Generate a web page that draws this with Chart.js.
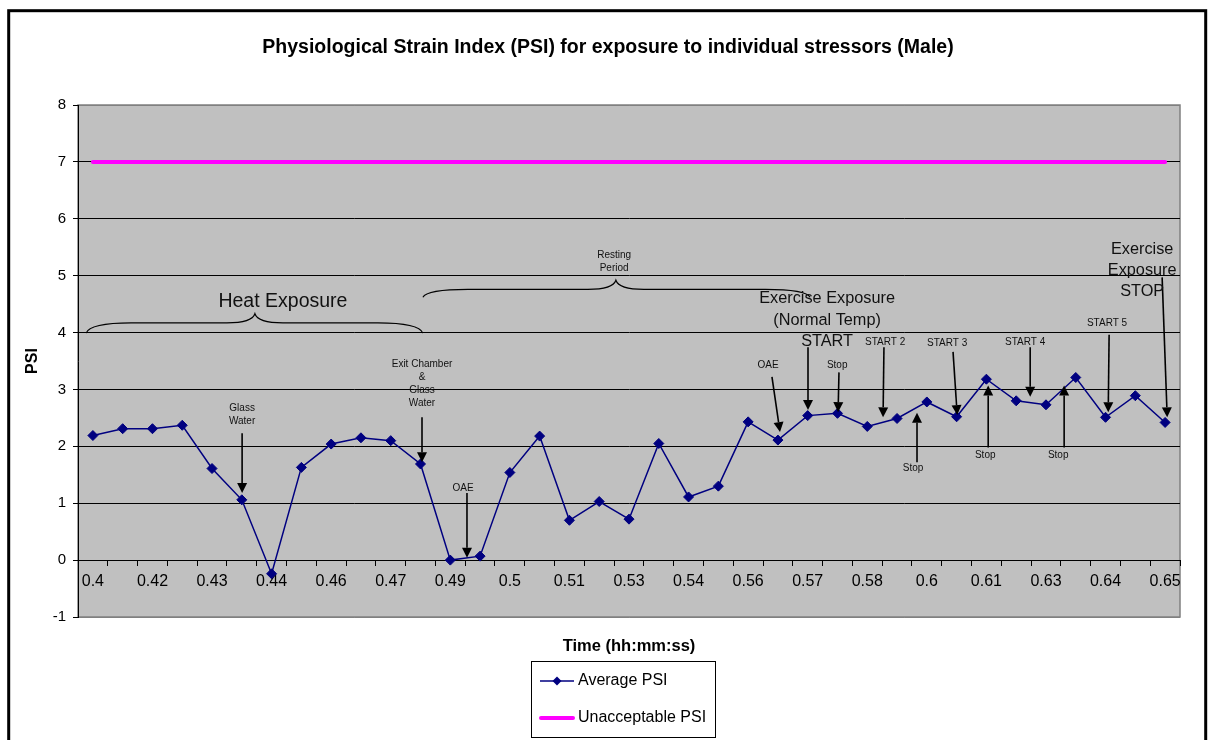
<!DOCTYPE html>
<html>
<head>
<meta charset="utf-8">
<title>PSI</title>
<script src="https://cdn.jsdelivr.net/npm/chart.js@4.4.1/dist/chart.umd.min.js"></script>
<style>
  html, body { margin: 0; padding: 0; background: #fff; }
  #wrap { width: 1209px; height: 740px; }
</style>
</head>
<body>
<div id="wrap"><canvas id="myChart" width="1209" height="740"></canvas></div>
<script>
const timeLabels = ['0.4','0.41','0.42','0.42','0.43','0.44','0.44','0.45','0.46','0.47','0.47','0.48','0.49',
  '0.49','0.5','0.51','0.51','0.52','0.53','0.53','0.54','0.55','0.56','0.56','0.57','0.58','0.58','0.59',
  '0.6','0.6','0.61','0.62','0.63','0.63','0.64','0.65','0.65'];

const averagePSI = [2.19, 2.31, 2.31, 2.37, 1.61, 1.06, -0.24, 1.63, 2.04, 2.15, 2.10, 1.69, 0.00,
  0.07, 1.54, 2.18, 0.70, 1.03, 0.72, 2.05, 1.11, 1.30, 2.43, 2.11, 2.54, 2.58, 2.35, 2.49,
  2.78, 2.52, 3.18, 2.80, 2.73, 3.21, 2.51, 2.89, 2.42];

const unacceptablePSI = [7, 7, 7, 7, 7, 7, 7, 7, 7, 7, 7, 7, 7, 7, 7, 7, 7, 7, 7,
  7, 7, 7, 7, 7, 7, 7, 7, 7, 7, 7, 7, 7, 7, 7, 7, 7, 7];

// annotation text: category index, psi value of first line
const notes = [
  { lines: ['Heat Exposure'], x: 6.38, y: 4.54, size: 19.5 },
  { lines: ['Resting', 'Period'], x: 17.5, y: 5.36, size: 10 },
  { lines: ['Glass', 'Water'], x: 5.01, y: 2.67, size: 10 },
  { lines: ['Exit Chamber', '&', 'Glass', 'Water'], x: 11.05, y: 3.45, size: 10 },
  { lines: ['OAE'], x: 12.43, y: 1.27, size: 10 },
  { lines: ['OAE'], x: 22.67, y: 3.42, size: 10 },
  { lines: ['Exercise Exposure', '(Normal Temp)', 'START'], x: 24.65, y: 4.59, size: 16.3 },
  { lines: ['Stop'], x: 24.99, y: 3.42, size: 10 },
  { lines: ['START 2'], x: 26.6, y: 3.83, size: 10 },
  { lines: ['Stop'], x: 27.54, y: 1.62, size: 10 },
  { lines: ['START 3'], x: 28.68, y: 3.81, size: 10 },
  { lines: ['Stop'], x: 29.96, y: 1.84, size: 10 },
  { lines: ['START 4'], x: 31.3, y: 3.83, size: 10 },
  { lines: ['Stop'], x: 32.41, y: 1.84, size: 10 },
  { lines: ['START 5'], x: 34.05, y: 4.17, size: 10 },
  { lines: ['Exercise', 'Exposure', 'STOP'], x: 35.23, y: 5.46, size: 16.3 }
];

// arrows: [x from, y from, x tip, y tip]
const arrows = [
  [5.01, 2.23, 5.01, 1.18],
  [11.05, 2.51, 11.05, 1.72],
  [12.56, 1.18, 12.56, 0.04],
  [22.8, 3.22, 23.07, 2.25],
  [24.01, 3.74, 24.01, 2.64],
  [25.05, 3.3, 25.02, 2.6],
  [26.56, 3.74, 26.53, 2.51],
  [27.67, 1.72, 27.67, 2.59],
  [28.88, 3.66, 29.02, 2.55],
  [30.06, 1.98, 30.06, 3.07],
  [31.47, 3.74, 31.47, 2.87],
  [32.61, 1.98, 32.61, 3.07],
  [34.12, 3.96, 34.09, 2.6],
  [35.9, 4.97, 36.07, 2.51]
];

const braces = [
  { from: -0.23, to: 11.08, tip: 5.44, end: 3.99, flat: 4.17, peak: 4.33 },
  { from: 11.08, to: 24.08, tip: 17.56, end: 4.62, flat: 4.76, peak: 4.92 }
];

const FONT = "'Liberation Sans', Arial, sans-serif";
const NAVY = '#000080';
const PINK = '#ff00ff';

function drawArrow(ctx, x1, y1, x2, y2) {
  const ang = Math.atan2(y2 - y1, x2 - x1);
  const len = 10, half = 5;
  const bx = x2 - Math.cos(ang) * len, by = y2 - Math.sin(ang) * len;
  ctx.beginPath();
  ctx.moveTo(x1, y1);
  ctx.lineTo(bx, by);
  ctx.stroke();
  ctx.beginPath();
  ctx.moveTo(x2, y2);
  ctx.lineTo(bx + Math.sin(ang) * half, by - Math.cos(ang) * half);
  ctx.lineTo(bx - Math.sin(ang) * half, by + Math.cos(ang) * half);
  ctx.closePath();
  ctx.fill();
}

const decor = {
  id: 'decor',
  beforeDraw(chart) {
    const { ctx, chartArea: a } = chart;
    ctx.save();
    ctx.fillStyle = '#fff';
    ctx.fillRect(0, 0, chart.width, chart.height);
    ctx.fillStyle = '#c0c0c0';
    ctx.fillRect(a.left, a.top, a.width, a.height);
    ctx.strokeStyle = '#808080';
    ctx.lineWidth = 1.5;
    ctx.strokeRect(a.left, a.top, a.width, a.height);
    ctx.restore();
  },
  afterDatasetsDraw(chart) {
    const { ctx } = chart;
    const xs = chart.scales.x, ys = chart.scales.y;
    const X = v => xs.getPixelForValue(v), Y = v => ys.getPixelForValue(v);
    ctx.save();
    ctx.strokeStyle = '#000';
    ctx.fillStyle = '#000';
    ctx.lineWidth = 1.2;
    braces.forEach(b => {
      const x1 = X(b.from), x2 = X(b.to), xm = X(b.tip);
      const ye = Y(b.end), yf = Y(b.flat), yp = Y(b.peak);
      const r = 45, r2 = 28;
      ctx.beginPath();
      ctx.moveTo(x1, ye);
      ctx.quadraticCurveTo(x1 + 4, yf, x1 + r, yf);
      ctx.lineTo(xm - r2, yf);
      ctx.quadraticCurveTo(xm - 3, yf, xm, yp);
      ctx.quadraticCurveTo(xm + 3, yf, xm + r2, yf);
      ctx.lineTo(x2 - r, yf);
      ctx.quadraticCurveTo(x2 - 4, yf, x2, ye);
      ctx.stroke();
    });
    ctx.lineWidth = 1.6;
    arrows.forEach(a => drawArrow(ctx, X(a[0]), Y(a[1]), X(a[2]), Y(a[3])));
    ctx.textAlign = 'center';
    ctx.textBaseline = 'middle';
    ctx.fillStyle = '#111';
    notes.forEach(n => {
      ctx.font = n.size + 'px ' + FONT;
      const gap = n.size * 1.3;
      n.lines.forEach((t, i) => ctx.fillText(t, X(n.x), Y(n.y) + i * gap));
    });
    ctx.restore();
  },
  afterDraw(chart) {
    const { ctx, chartArea: a } = chart;
    ctx.save();
    // outer frame
    ctx.strokeStyle = '#000';
    ctx.lineWidth = 3;
    ctx.strokeRect(8.7, 10.7, 1197, 760);
    ctx.fillStyle = '#000';
    ctx.textAlign = 'center';
    ctx.textBaseline = 'middle';
    ctx.font = 'bold 19.5px ' + FONT;
    ctx.fillText('Physiological Strain Index (PSI) for exposure to individual stressors (Male)', 608, 48);
    ctx.font = 'bold 16.5px ' + FONT;
    ctx.fillText('Time (hh:mm:ss)', (a.left + a.right) / 2, 646);
    // legend
    ctx.lineWidth = 1;
    ctx.strokeRect(531.5, 661.5, 184, 76);
    ctx.strokeStyle = NAVY;
    ctx.lineWidth = 1.5;
    ctx.beginPath();
    ctx.moveTo(540, 681);
    ctx.lineTo(574, 681);
    ctx.stroke();
    ctx.fillStyle = NAVY;
    ctx.beginPath();
    ctx.moveTo(557, 676.5);
    ctx.lineTo(561.5, 681);
    ctx.lineTo(557, 685.5);
    ctx.lineTo(552.5, 681);
    ctx.closePath();
    ctx.fill();
    ctx.strokeStyle = PINK;
    ctx.lineWidth = 4;
    ctx.lineCap = 'round';
    ctx.beginPath();
    ctx.moveTo(541, 718);
    ctx.lineTo(573, 718);
    ctx.stroke();
    ctx.fillStyle = '#000';
    ctx.textAlign = 'left';
    ctx.font = '16px ' + FONT;
    ctx.fillText('Average PSI', 578, 681);
    ctx.fillText('Unacceptable PSI', 578, 718);
    ctx.restore();
  }
};

const ctx = document.getElementById('myChart');
new Chart(ctx, {
  type: 'line',
  data: {
    labels: timeLabels,
    datasets: [
      {
        label: 'Average PSI',
        data: averagePSI,
        borderColor: NAVY,
        backgroundColor: NAVY,
        borderWidth: 1.5,
        pointStyle: 'rectRot',
        pointRadius: 5,
        pointBorderWidth: 1,
        pointBorderColor: NAVY,
        tension: 0
      },
      {
        label: 'Unacceptable PSI',
        data: unacceptablePSI,
        borderColor: PINK,
        borderWidth: 4,
        pointRadius: 0,
        borderCapStyle: 'round'
      }
    ]
  },
  options: {
    responsive: false,
    animation: false,
    layout: { padding: { left: 23, right: 29, top: 105, bottom: 123 } },
    plugins: {
      legend: { display: false },
      title: { display: false },
      tooltip: { enabled: false }
    },
    scales: {
      x: {
        position: { y: 0 },
        offset: true,
        grid: { offset: true, drawOnChartArea: false, color: '#000', tickLength: 5 },
        border: { color: '#000', width: 1 },
        ticks: {
          autoSkip: false,
          maxRotation: 0,
          minRotation: 0,
          padding: 7,
          color: '#000',
          font: { size: 16, family: FONT },
          callback: (v, i) => (i % 2 === 0 ? timeLabels[i] : '')
        }
      },
      y: {
        min: -1,
        max: 8,
        ticks: { stepSize: 1, padding: 7, color: '#000', font: { size: 15, family: FONT } },
        grid: {
          color: c => (c.tick && (c.tick.value === 8 || c.tick.value === -1) ? '#808080' : '#000'),
          tickColor: '#000',
          tickLength: 5
        },
        border: { color: '#000', width: 1 },
        title: { display: true, text: 'PSI', color: '#000', padding: 0, font: { size: 16, weight: 'bold', family: FONT } },
        afterFit: s => { s.width = 55; }
      }
    }
  },
  plugins: [decor]
});
</script>
</body>
</html>
